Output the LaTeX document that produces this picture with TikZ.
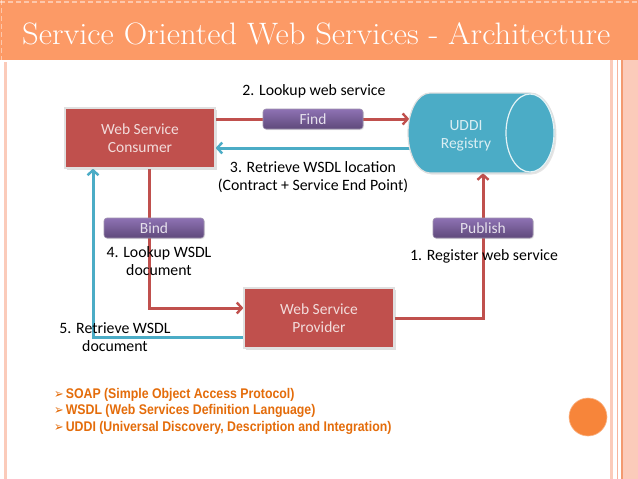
\documentclass[tikz,border=0pt]{standalone}
\usepackage{fontspec}
\newfontfamily\calfont{Carlito}
\newfontfamily\arialfont{Liberation Sans}
\newfontfamily\symfont{DejaVu Sans}
\usetikzlibrary{arrows.meta,shadows,calc}
\pgfdeclarelayer{background}
\pgfsetlayers{background,main}
\definecolor{hdr}{HTML}{FC9A66}
\definecolor{boxred}{HTML}{C0504D}
\definecolor{boxtext}{HTML}{F2DCDB}
\definecolor{purtop}{HTML}{8E72B4}
\definecolor{purbot}{HTML}{5F497A}
\definecolor{purtext}{HTML}{E5E0EC}
\definecolor{cylblue}{HTML}{4BACC6}
\definecolor{cyltext}{HTML}{DAEEF3}
\definecolor{linered}{HTML}{C0504D}
\definecolor{lineblue}{HTML}{4BACC6}
\definecolor{bullorange}{HTML}{E46C0A}
\definecolor{pinklt}{HTML}{FBCBBA}
\definecolor{pinkline}{HTML}{F7B49C}
\definecolor{orline}{HTML}{F39A70}
\definecolor{circor}{HTML}{F7853A}
\tikzset{
  redbox/.style={draw=black!12, line width=1.2pt, fill=boxred, minimum width=150pt,
    minimum height=60pt, text=boxtext, font=\calfont\fontsize{15.5}{18}\selectfont,
    align=center, drop shadow={opacity=0.25,shadow xshift=1.5pt,shadow yshift=-1.5pt}},
  purbox/.style={rounded corners=3pt, draw=purbot!60, line width=0.6pt, top color=purtop,
    bottom color=purbot, minimum width=100pt, minimum height=20pt, inner sep=0pt,
    text=purtext, font=\calfont\fontsize{15.5}{18}\selectfont,
    drop shadow={opacity=0.2,shadow xshift=1pt,shadow yshift=-1pt}},
  lbl/.style={font=\calfont\fontsize{15.8}{18}\selectfont, align=center, text=black, inner sep=0pt},
  redline/.style={draw=linered, line width=3pt, -{Straight Barb[length=5pt,width=11pt,line width=2.4pt]}},
  blueline/.style={draw=lineblue, line width=3pt, -{Straight Barb[length=5pt,width=11pt,line width=2.4pt]}},
}
\newcommand{\bul}{{\symfont\fontsize{13}{13}\selectfont ➢}\,}
\begin{document}
\begin{tikzpicture}[x=1pt,y=-1pt]
\useasboundingbox (0,0) rectangle (638,479);
\begin{pgfonlayer}{background}
  \fill[white] (0,0) rectangle (638,479);
  % header
  \fill[hdr] (0,0) rectangle (638,60);
  \draw[white, opacity=0.45, line width=1.5pt, dash pattern=on 5pt off 3pt] (0,2) -- (638,2);
  \draw[white, opacity=0.45, line width=1.5pt, dash pattern=on 5pt off 3pt] (1.5,0) -- (1.5,60);
  % borders
  \draw[pinklt, line width=3pt] (5,62) -- (5,479);
  \fill[pinklt] (623,60) rectangle (638,479);
  \draw[pinklt, line width=3pt] (611.5,60) -- (611.5,479);
  \draw[pinkline, line width=1.2pt] (617.5,60) -- (617.5,479);
  \draw[orline, line width=1.5pt] (622.2,60) -- (622.2,479);
\end{pgfonlayer}

\node[anchor=base west, text=white, inner sep=0pt, font=\fontsize{31}{36}\selectfont] (title) at (22,44) {\scalebox{1.05}[1]{Service Oriented Web Services - Architecture}};

% main nodes
\node[redbox] (consumer) at (140,138) {Web Service\\Consumer};
\node[redbox] (provider) at (319,318) {Web Service\\Provider};
\node[minimum width=147pt, minimum height=80pt, inner sep=0pt] (uddi) at (481.5,133) {};
\node[purbox] (find) at (313,119) {Find};
\node[purbox] (bind) at (154,228) {Bind};
\node[purbox] (publish) at (483,228) {Publish};

\coordinate (yb3) at (0,148);
\coordinate (xr4) at (149,0);
\coordinate (yr4) at (0,308);
\coordinate (xb5) at (93,0);
\coordinate (yb5) at (0,337);

\begin{pgfonlayer}{background}
  \draw[redline] (consumer.east |- find) -- ($(uddi.west |- find)+(1.5,0)$);
  \draw[blueline] ($(uddi.west |- yb3)+(3,0)$) -- (consumer.east |- yb3);
  \draw[redline] (consumer.south -| xr4) |- (provider.west |- yr4);
  \draw[blueline] (provider.west |- yb5) -| (consumer.south -| xb5);
  \draw[redline] (provider.east) -| (uddi.south -| publish);
\end{pgfonlayer}

% UDDI cylinder
\filldraw[fill=cylblue, draw=black!12, line width=1.2pt,
  drop shadow={opacity=0.2,shadow xshift=1.5pt,shadow yshift=-1.5pt}]
  (430,93) -- (530,93) arc[start angle=-90, end angle=90, x radius=25, y radius=40]
  -- (430,173) arc[start angle=90, end angle=270, x radius=22, y radius=40] -- cycle;
\draw[white!85!cylblue, line width=1.2pt] (530,133) ellipse[x radius=24, y radius=39];
\node[font=\calfont\fontsize{15.5}{18}\selectfont, text=cyltext, align=center] (uddilbl) at (466,136) {UDDI\\Registry};

% labels
\node[lbl] (l2) at (314,91) {2. Lookup web service};
\node[lbl] (l3) at (313,177) {3. Retrieve WSDL location\\(Contract + Service End Point)};
\node[lbl] (l4) at (159,261) {4. Lookup WSDL\\document};
\node[lbl] (l1) at (484,256) {1. Register web service};
\node[lbl] (l5) at (115,337) {5. Retrieve WSDL\\document};

% bullets
\node[anchor=west, align=left, inner sep=0pt, text=bullorange, xscale=0.88, transform shape,
  font=\arialfont\bfseries\fontsize{14}{16.5}\selectfont] (bullets) at (54,411)
  {\bul SOAP (Simple Object Access Protocol)\\
   \bul WSDL (Web Services Definition Language)\\
   \bul UDDI (Universal Discovery, Description and Integration)};

\node[circle, fill=circor, draw=circor!60!white, line width=0.6pt, minimum size=38pt, inner sep=0pt] (dot) at (588,417) {};
\end{tikzpicture}
\end{document}
